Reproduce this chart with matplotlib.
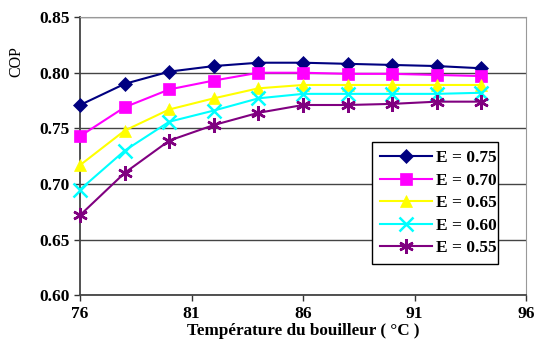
import numpy as np
import matplotlib
matplotlib.use("Agg")
import matplotlib.pyplot as plt

# boiler temperature (°C)
temp = [76, 78, 80, 82, 84, 86, 88, 90, 92, 94]

# COP for each efficiency E
cop_075 = [0.771, 0.790, 0.801, 0.806, 0.809, 0.809, 0.808, 0.807, 0.806, 0.804]
cop_070 = [0.743, 0.769, 0.785, 0.793, 0.800, 0.800, 0.799, 0.799, 0.798, 0.797]
cop_065 = [0.717, 0.748, 0.767, 0.777, 0.786, 0.789, 0.789, 0.789, 0.789, 0.789]
cop_060 = [0.695, 0.730, 0.756, 0.766, 0.777, 0.781, 0.781, 0.781, 0.781, 0.782]
cop_055 = [0.672, 0.710, 0.739, 0.753, 0.764, 0.771, 0.771, 0.772, 0.774, 0.774]

labels = ["E = 0.75", "E = 0.70", "E = 0.65", "E = 0.60", "E = 0.55"]
x_ticks = [76, 81, 86, 91, 96]
y_ticks = [0.60, 0.65, 0.70, 0.75, 0.80, 0.85]

plt.rcParams['font.family'] = ['Liberation Serif', 'DejaVu Serif']

fig = plt.figure(figsize=(5.34, 3.49), dpi=100, facecolor='w')
ax = fig.add_axes([0.150, 0.154, 0.835, 0.797])

series = [cop_075, cop_070, cop_065, cop_060, cop_055]
colors = ['#000080', '#ff00ff', '#ffff00', '#00ffff', '#800080']
markers = ['D', 's', '^', 'x', (6, 2, 0)]
msizes = [7.5, 8.5, 8.5, 9.5, 10.5]

for ys, c, m, ms, lab in zip(series, colors, markers, msizes, labels):
    ax.plot(temp, ys, color=c, lw=1.5, marker=m, markersize=ms,
            markeredgewidth=1.8 if m in ('x', (6, 2, 0)) else 0.5,
            markeredgecolor=c, label=lab, clip_on=False, zorder=3)

ax.set_xlim(76, 96)
ax.set_ylim(0.60, 0.85)
ax.set_xticks(x_ticks)
ax.set_yticks(y_ticks)
ax.set_yticklabels(["%.2f" % v for v in y_ticks])
ax.tick_params(direction='out', length=4, width=1, colors='#333333',
               labelsize=12.5, labelcolor='black')
for lab in ax.get_xticklabels() + ax.get_yticklabels():
    lab.set_fontweight('bold')

ax.yaxis.grid(True, color='#444444', lw=1)
ax.set_axisbelow(True)
ax.spines['left'].set_color('#444444')
ax.spines['bottom'].set_color('#444444')
ax.spines['left'].set_linewidth(1.3)
ax.spines['bottom'].set_linewidth(1.3)
ax.spines['top'].set_color('#999999')
ax.spines['right'].set_color('#999999')

ax.set_xlabel("Température du bouilleur ( °C )", fontsize=12.3,
              fontweight='bold', labelpad=1)
ax.set_ylabel("COP", fontsize=11.5, labelpad=4)
ax.yaxis.set_label_coords(-0.125, 0.84)

leg = ax.legend(loc='lower left', bbox_to_anchor=(0.655, 0.113, 0.282, 0.438),
                mode='expand', prop={'weight': 'bold', 'size': 12.5},
                handlelength=3.0, labelspacing=0.36, borderpad=0.45,
                handletextpad=0.2, fancybox=False, framealpha=1,
                edgecolor='black', borderaxespad=0)
leg.get_frame().set_linewidth(1)

fig.savefig("out.png", dpi=100)
